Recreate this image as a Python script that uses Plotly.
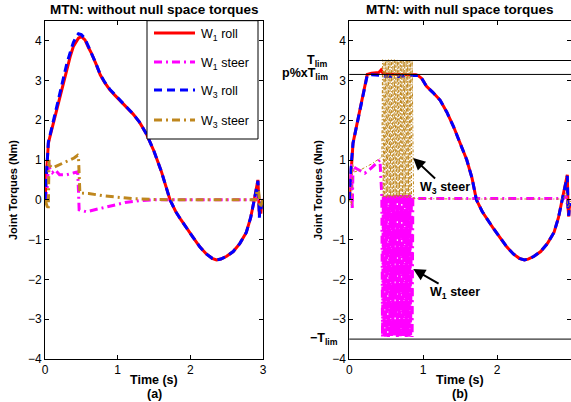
import plotly.graph_objects as go

# ---------------- data ----------------
# (a) without null space torques
ta_roll = [0, 0.02, 0.046, 0.07, 0.1, 0.15, 0.206, 0.25, 0.3, 0.35, 0.39, 0.43, 0.46, 0.5,
           0.55, 0.6, 0.64, 0.7, 0.76, 0.82, 0.89, 0.96, 1.03, 1.12, 1.21, 1.3, 1.4, 1.5,
           1.6, 1.72, 1.8, 1.87, 1.95, 2.04, 2.13, 2.22, 2.3, 2.36, 2.42, 2.5, 2.59, 2.68,
           2.77, 2.83, 2.88, 2.91, 2.93, 2.94, 2.95, 2.96, 2.97, 2.98, 3.0]
a_w1_roll = [0, 0.7, 1.42, 1.6, 1.82, 2.2, 2.6, 2.95, 3.33, 3.62, 3.85, 3.98, 4.06, 4.1,
             4.02, 3.82, 3.68, 3.42, 3.14, 2.95, 2.77, 2.63, 2.5, 2.34, 2.16, 1.95, 1.64, 1.22,
             0.72, 0.0, -0.3, -0.5, -0.72, -0.95, -1.18, -1.36, -1.47, -1.51, -1.49, -1.42, -1.3, -1.1,
             -0.82, -0.45, 0.0, 0.3, 0.5, 0.1, -0.4, -0.1, -0.35, -0.1, -0.15]
a_w3_roll = [0, 0.75, 1.45, 1.63, 1.86, 2.25, 2.66, 3.02, 3.42, 3.72, 3.95, 4.1, 4.17, 4.15,
             4.05, 3.84, 3.69, 3.43, 3.15, 2.96, 2.78, 2.64, 2.5, 2.34, 2.16, 1.95, 1.64, 1.22,
             0.72, 0.0, -0.3, -0.5, -0.72, -0.95, -1.18, -1.36, -1.47, -1.51, -1.49, -1.42, -1.3, -1.1,
             -0.82, -0.45, 0.0, 0.3, 0.48, 0.1, -0.45, -0.1, -0.3, -0.1, -0.12]

ta_w1_steer = [0, 0.03, 0.05, 0.07, 0.1, 0.14, 0.2, 0.3, 0.4, 0.45, 0.46, 0.47, 0.57, 0.7,
               0.9, 1.1, 1.3, 1.5, 2.0, 2.5, 2.9, 2.93, 2.95, 3.0]
a_w1_steer = [0, 0.3, 0.93, 0.75, 0.68, 0.75, 0.63, 0.63, 0.68, 0.7, 0.25, -0.25, -0.3, -0.24,
              -0.15, -0.07, -0.02, 0, 0, 0, 0, 0.1, -0.05, 0]

ta_w3_steer = [0, 0.03, 0.045, 0.055, 0.07, 0.1, 0.2, 0.3, 0.4, 0.45, 0.46, 0.48, 0.6, 0.8,
               1.0, 1.2, 1.5, 1.8, 2.5, 2.9, 2.92, 2.94, 2.96, 3.0]
a_w3_steer = [0, -0.2, -0.25, 1.0, 0.85, 0.8, 0.88, 0.98, 1.05, 1.12, 1.1, 0.17, 0.16, 0.1,
              0.06, 0.03, 0.01, 0, 0, 0, 0.25, 0.2, -0.2, 0]

# (b) with null space torques
tb_roll = [0, 0.02, 0.05, 0.1, 0.15, 0.2, 0.243, 0.3, 0.35, 0.4, 0.43, 0.45, 0.5, 0.6, 0.7,
           0.8, 0.9, 0.93, 0.98, 1.045, 1.13, 1.23, 1.32, 1.41, 1.5, 1.59, 1.66, 1.72, 1.8,
           1.87, 1.95, 2.04, 2.13, 2.22, 2.3, 2.37, 2.42, 2.5, 2.59, 2.68, 2.77, 2.83, 2.88,
           2.91, 2.93, 2.95, 2.96, 2.97, 2.98, 3.0]
b_w1_roll = [0, 0.7, 1.42, 1.87, 2.32, 2.76, 3.15, 3.18, 3.19, 3.2, 3.26, 3.2, 3.16, 3.15, 3.14,
             3.14, 3.14, 3.12, 3.05, 2.85, 2.7, 2.5, 2.2, 1.84, 1.42, 1.0, 0.55, 0.0, -0.3,
             -0.5, -0.72, -0.95, -1.18, -1.36, -1.47, -1.51, -1.49, -1.42, -1.3, -1.1, -0.82, -0.45, 0.0,
             0.3, 0.5, 0.63, -0.2, -0.42, -0.1, -0.2]
b_w3_roll = [0, 0.75, 1.42, 1.87, 2.32, 2.76, 3.13, 3.14, 3.14, 3.14, 3.13, 3.12, 3.1, 3.1, 3.1,
             3.12, 3.13, 3.12, 3.05, 2.85, 2.7, 2.5, 2.2, 1.84, 1.42, 1.0, 0.55, 0.0, -0.3,
             -0.5, -0.72, -0.95, -1.18, -1.36, -1.47, -1.51, -1.49, -1.42, -1.3, -1.1, -0.82, -0.45, 0.0,
             0.3, 0.5, 0.6, -0.25, -0.4, -0.1, -0.15]

band_t = [0.44, 0.45, 0.46, 0.47, 0.48, 0.49, 0.50, 0.51, 0.52, 0.53, 0.54, 0.55, 0.56, 0.57,
          0.58, 0.59, 0.60, 0.61, 0.62, 0.63, 0.64, 0.65, 0.66, 0.67, 0.68, 0.69, 0.70, 0.71,
          0.72, 0.73, 0.74, 0.75, 0.76, 0.77, 0.78, 0.79, 0.80, 0.81, 0.82, 0.83, 0.84, 0.85, 0.86]
band_w1_steer = [0.1, -3.45, 0.12, -3.42, 0.1, -3.45, 0.12, -3.4, 0.1, -3.45, 0.12, -3.42,
                 0.1, -3.45, 0.12, -3.4, 0.1, -3.45, 0.12, -3.42, 0.1, -3.45, 0.12, -3.4,
                 0.1, -3.45, 0.12, -3.42, 0.1, -3.45, 0.12, -3.4, 0.1, -3.45, 0.12, -3.42,
                 0.1, -3.45, 0.12, -3.4, 0.1, -3.45, 0.1]
band_w3_steer = [1.05, 3.52, 0.05, 3.5, 0.08, 3.52, 0.05, 3.48, 0.08, 3.52, 0.05, 3.5,
                 0.08, 3.52, 0.05, 3.48, 0.08, 3.52, 0.05, 3.5, 0.08, 3.52, 0.05, 3.48,
                 0.08, 3.52, 0.05, 3.5, 0.08, 3.52, 0.05, 3.48, 0.08, 3.52, 0.05, 3.5,
                 0.08, 3.52, 0.05, 3.48, 0.08, 3.52, 0.05]

tb_w1_pre = [0, 0.03, 0.04, 0.05, 0.1, 0.21, 0.3, 0.415]
b_w1_pre = [0, 0.9, -0.25, 0.83, 0.78, 0.67, 0.8, 1.0]
tb_w1_post = [0.87, 1.5, 2.9, 2.93, 2.95, 3.0]
b_w1_post = [0.03, 0.03, 0.03, 0.1, -0.1, 0.0]

tb_w3_pre = [0, 0.03, 0.045, 0.07, 0.15, 0.3, 0.42]
b_w3_pre = [0, -0.15, 0.9, 0.7, 0.75, 0.9, 1.05]
tb_w3_post = [0.87, 1.5, 2.9, 2.93, 2.96, 3.0]
b_w3_post = [0.03, 0.02, 0.02, 0.2, -0.2, 0.0]

lim_levels = [3.5, 3.15, -3.5]
lim_labels = ["<b>T<sub>lim</sub></b>", "<b>p%xT<sub>lim</sub></b>", "<b>\u2212T<sub>lim</sub></b>"]
lim_label_right_px = [330, 330, 340]

names = ["W<sub>1</sub> roll", "W<sub>1</sub> steer", "W<sub>3</sub> roll", "W<sub>3</sub> steer"]

# ---------------- styles ----------------
RED = "#FF0000"
MAG = "#FF00FF"
BLUE = "#0000FF"
BROWN = "rgb(191,135,30)"
FONT = "Liberation Sans, Arial, sans-serif"
W, H = 571, 402

styles = [dict(color=RED, width=3, dash="solid"),
          dict(color=MAG, width=3, dash="8px,4px,2px,4px"),
          dict(color=BLUE, width=3, dash="8px,5px"),
          dict(color=BROWN, width=3, dash="8px,4px,2px,4px")]

fig = go.Figure()

# panel (a)
a_series = [(ta_roll, a_w1_roll), (ta_w1_steer, a_w1_steer), (ta_roll, a_w3_roll), (ta_w3_steer, a_w3_steer)]
for i, (tx, vy) in enumerate(a_series):
    fig.add_trace(go.Scatter(x=tx, y=vy, mode="lines", line=styles[i], name=names[i],
                             showlegend=False, xaxis="x", yaxis="y"))

# panel (b)
b_w1_steer = b_w1_pre + band_w1_steer + b_w1_post
tb_w1_steer = tb_w1_pre + band_t + tb_w1_post
b_w3_steer = b_w3_pre + band_w3_steer + b_w3_post
tb_w3_steer = tb_w3_pre + band_t + tb_w3_post
b_series = [(tb_roll, b_w1_roll), (tb_w1_steer, b_w1_steer), (tb_roll, b_w3_roll), (tb_w3_steer, b_w3_steer)]
for i, (tx, vy) in enumerate(b_series):
    st = dict(styles[i])
    if i == 3:
        st["width"] = 1
        st["dash"] = "3px,2px,1px,2px"
    fig.add_trace(go.Scatter(x=tx, y=vy, mode="lines", line=st, name=names[i],
                             showlegend=False, xaxis="x2", yaxis="y2"))

# limit lines
for lv in lim_levels:
    fig.add_shape(type="line", xref="x2 domain", x0=0, x1=1, yref="y2", y0=lv, y1=lv,
                  line=dict(color="black", width=1))

# ---------------- layout ----------------
y_dom = [1 - 359 / H, 1 - 20.7 / H]
axis_common = dict(showline=True, linecolor="black", linewidth=1, mirror="allticks",
                   ticks="inside", ticklen=4, tickcolor="black", showgrid=False, zeroline=False,
                   tickfont=dict(family=FONT, size=12, color="black"))
fig.update_layout(
    width=W, height=H,
    margin=dict(l=0, r=0, t=0, b=0, autoexpand=False),
    paper_bgcolor="white", plot_bgcolor="white",
    font=dict(family=FONT, size=11, color="black"),
    xaxis=dict(domain=[45 / W, 263 / W], range=[0, 3], tickvals=[0, 1, 2, 3], anchor="y", **axis_common),
    yaxis=dict(domain=y_dom, range=[-4, 4.5], tickvals=[-4, -3, -2, -1, 0, 1, 2, 3, 4], anchor="x", **axis_common),
    xaxis2=dict(domain=[349.3 / W, 1.0], range=[0, 3], tickvals=[0, 1, 2, 3], anchor="y2", **axis_common),
    yaxis2=dict(domain=y_dom, range=[-4, 4.5], tickvals=[-4, -3, -2, -1, 0, 1, 2, 3, 4], anchor="x2", **axis_common),
    showlegend=False,
)

# ---- legend drawn as a box with sample lines (panel a) ----
fig.add_shape(type="rect", xref="paper", yref="paper", x0=147 / W, x1=258 / W,
              y0=1 - 139 / H, y1=1 - 20.7 / H, line=dict(color="black", width=1),
              fillcolor="white", layer="above")
leg_rows = [33, 62, 90, 120]
ann = []
for i, ry in enumerate(leg_rows):
    st = styles[i]
    fig.add_shape(type="line", xref="paper", yref="paper", x0=154 / W, x1=195 / W,
                  y0=1 - ry / H, y1=1 - ry / H, layer="above",
                  line=dict(color=st["color"], width=st["width"], dash=st["dash"]))
    ann.append(dict(x=199 / W, y=1 - (ry + 2) / H, xref="paper", yref="paper", text=names[i],
                    showarrow=False, xanchor="left", yanchor="middle",
                    font=dict(family=FONT, size=12.5, color="black")))

def txt(x, y, s, size=12, **kw):
    d = dict(x=x, y=y, xref="paper", yref="paper", text=s, showarrow=False,
             xanchor="center", yanchor="middle",
             font=dict(family=FONT, size=size, color="black"))
    d.update(kw)
    ann.append(d)

# titles & axis labels
txt(154 / W, 1 - 9.5 / H, "<b>MTN: without null space torques</b>", size=13.5)
txt(460 / W, 1 - 9.5 / H, "<b>MTN: with null space torques</b>", size=13.5)
txt(154 / W, 1 - 380 / H, "<b>Time (s)</b>", size=12.5)
txt(154 / W, 1 - 394 / H, "<b>(a)</b>", size=12.5)
txt(460 / W, 1 - 380 / H, "<b>Time (s)</b>", size=12.5)
txt(460 / W, 1 - 394 / H, "<b>(b)</b>", size=12.5)
txt(13 / W, 1 - 190 / H, "<b>Joint Torques (Nm)</b>", size=11, textangle=-90)
txt(318 / W, 1 - 190 / H, "<b>Joint Torques (Nm)</b>", size=11, textangle=-90)

# limit labels
for lv, lb, rx in zip(lim_levels, lim_labels, lim_label_right_px):
    ann.append(dict(x=rx / W, xref="paper", xanchor="right", y=lv, yref="y2", yanchor="middle",
                    text=lb, showarrow=False, font=dict(family=FONT, size=12.5, color="black")))

# arrows
ann.append(dict(x=0.865, y=1.05, xref="x2", yref="y2", text="<b>W<sub>3</sub> steer</b>",
                showarrow=True, arrowhead=2, arrowsize=1.2, arrowwidth=2, arrowcolor="black",
                ax=32, ay=30, font=dict(family=FONT, size=12.5, color="black")))
ann.append(dict(x=0.865, y=-1.74, xref="x2", yref="y2", text="<b>W<sub>1</sub> steer</b>",
                showarrow=True, arrowhead=2, arrowsize=1.2, arrowwidth=2, arrowcolor="black",
                ax=42, ay=24, font=dict(family=FONT, size=12.5, color="black")))

fig.update_layout(annotations=ann)
fig.write_html("out.html", config={"displayModeBar": False},
               post_script="document.body.style.margin='0px';document.body.style.overflow='hidden';")
